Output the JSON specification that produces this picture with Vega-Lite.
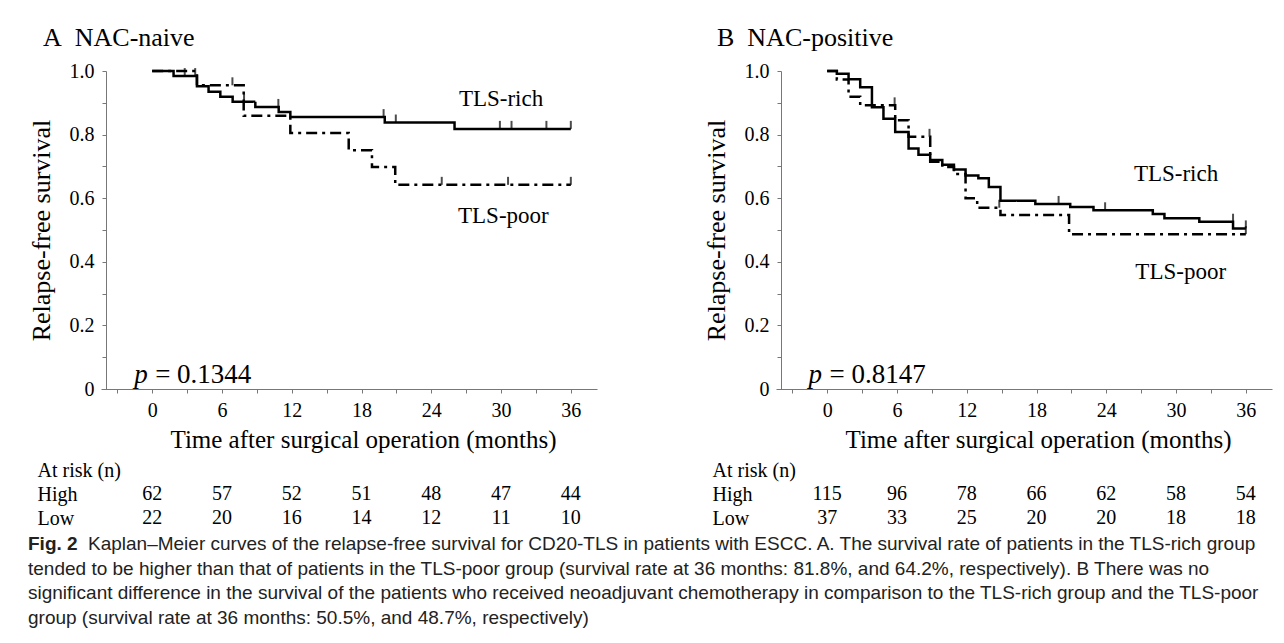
{
  "$schema": "https://vega.github.io/schema/vega-lite/v6.json",
  "padding": {"left": 28, "top": 25, "right": 5, "bottom": 5},
  "background": "white",
  "config": {
    "font": "Liberation Serif",
    "view": {"stroke": null}
  },
  "datasets": {
    "curves": [
      {"panel": "A", "group": "TLS-rich", "month": 0, "surv": 1},
      {"panel": "A", "group": "TLS-rich", "month": 1.84, "surv": 0.984},
      {"panel": "A", "group": "TLS-rich", "month": 3.85, "surv": 0.952},
      {"panel": "A", "group": "TLS-rich", "month": 4.85, "surv": 0.935},
      {"panel": "A", "group": "TLS-rich", "month": 5.86, "surv": 0.919},
      {"panel": "A", "group": "TLS-rich", "month": 6.92, "surv": 0.903},
      {"panel": "A", "group": "TLS-rich", "month": 8.87, "surv": 0.887},
      {"panel": "A", "group": "TLS-rich", "month": 10.88, "surv": 0.871},
      {"panel": "A", "group": "TLS-rich", "month": 11.88, "surv": 0.855},
      {"panel": "A", "group": "TLS-rich", "month": 20.0, "surv": 0.838},
      {"panel": "A", "group": "TLS-rich", "month": 26.0, "surv": 0.818},
      {"panel": "A", "group": "TLS-rich", "month": 36, "surv": 0.818},
      {"panel": "A", "group": "TLS-poor", "month": 0, "surv": 1},
      {"panel": "A", "group": "TLS-poor", "month": 3.85, "surv": 0.955},
      {"panel": "A", "group": "TLS-poor", "month": 7.87, "surv": 0.859},
      {"panel": "A", "group": "TLS-poor", "month": 11.88, "surv": 0.805},
      {"panel": "A", "group": "TLS-poor", "month": 16.9, "surv": 0.751},
      {"panel": "A", "group": "TLS-poor", "month": 18.9, "surv": 0.698},
      {"panel": "A", "group": "TLS-poor", "month": 20.9, "surv": 0.642},
      {"panel": "A", "group": "TLS-poor", "month": 36, "surv": 0.642},
      {"panel": "B", "group": "TLS-rich", "month": 0, "surv": 1},
      {"panel": "B", "group": "TLS-rich", "month": 0.83, "surv": 0.991},
      {"panel": "B", "group": "TLS-rich", "month": 1.84, "surv": 0.974},
      {"panel": "B", "group": "TLS-rich", "month": 2.84, "surv": 0.949},
      {"panel": "B", "group": "TLS-rich", "month": 3.85, "surv": 0.886},
      {"panel": "B", "group": "TLS-rich", "month": 4.84, "surv": 0.85},
      {"panel": "B", "group": "TLS-rich", "month": 5.85, "surv": 0.808},
      {"panel": "B", "group": "TLS-rich", "month": 7.0, "surv": 0.756},
      {"panel": "B", "group": "TLS-rich", "month": 7.85, "surv": 0.737},
      {"panel": "B", "group": "TLS-rich", "month": 8.86, "surv": 0.72},
      {"panel": "B", "group": "TLS-rich", "month": 9.9, "surv": 0.705},
      {"panel": "B", "group": "TLS-rich", "month": 10.9, "surv": 0.69},
      {"panel": "B", "group": "TLS-rich", "month": 11.9, "surv": 0.671},
      {"panel": "B", "group": "TLS-rich", "month": 13.0, "surv": 0.663},
      {"panel": "B", "group": "TLS-rich", "month": 13.9, "surv": 0.635},
      {"panel": "B", "group": "TLS-rich", "month": 14.9, "surv": 0.592},
      {"panel": "B", "group": "TLS-rich", "month": 17.9, "surv": 0.582},
      {"panel": "B", "group": "TLS-rich", "month": 20.9, "surv": 0.572},
      {"panel": "B", "group": "TLS-rich", "month": 22.9, "surv": 0.562},
      {"panel": "B", "group": "TLS-rich", "month": 28.0, "surv": 0.55},
      {"panel": "B", "group": "TLS-rich", "month": 29.0, "surv": 0.537},
      {"panel": "B", "group": "TLS-rich", "month": 32.0, "surv": 0.526},
      {"panel": "B", "group": "TLS-rich", "month": 34.9, "surv": 0.505},
      {"panel": "B", "group": "TLS-rich", "month": 36, "surv": 0.505},
      {"panel": "B", "group": "TLS-poor", "month": 0, "surv": 1},
      {"panel": "B", "group": "TLS-poor", "month": 0.83, "surv": 0.973},
      {"panel": "B", "group": "TLS-poor", "month": 1.84, "surv": 0.919},
      {"panel": "B", "group": "TLS-poor", "month": 2.84, "surv": 0.892},
      {"panel": "B", "group": "TLS-poor", "month": 5.85, "surv": 0.845},
      {"panel": "B", "group": "TLS-poor", "month": 7.0, "surv": 0.793},
      {"panel": "B", "group": "TLS-poor", "month": 8.86, "surv": 0.715},
      {"panel": "B", "group": "TLS-poor", "month": 9.9, "surv": 0.698},
      {"panel": "B", "group": "TLS-poor", "month": 10.9, "surv": 0.676},
      {"panel": "B", "group": "TLS-poor", "month": 11.9, "surv": 0.6},
      {"panel": "B", "group": "TLS-poor", "month": 12.9, "surv": 0.57},
      {"panel": "B", "group": "TLS-poor", "month": 14.9, "surv": 0.547},
      {"panel": "B", "group": "TLS-poor", "month": 20.8, "surv": 0.487},
      {"panel": "B", "group": "TLS-poor", "month": 36, "surv": 0.487}
    ],
    "censor": [
      {"panel": "A", "group": "TLS-rich", "month": 2.8, "surv": 0.984},
      {"panel": "A", "group": "TLS-rich", "month": 3.7, "surv": 0.984},
      {"panel": "A", "group": "TLS-rich", "month": 7.9, "surv": 0.903},
      {"panel": "A", "group": "TLS-rich", "month": 10.85, "surv": 0.887},
      {"panel": "A", "group": "TLS-rich", "month": 19.9, "surv": 0.855},
      {"panel": "A", "group": "TLS-rich", "month": 20.95, "surv": 0.838},
      {"panel": "A", "group": "TLS-rich", "month": 29.9, "surv": 0.818},
      {"panel": "A", "group": "TLS-rich", "month": 30.9, "surv": 0.818},
      {"panel": "A", "group": "TLS-rich", "month": 33.9, "surv": 0.818},
      {"panel": "A", "group": "TLS-rich", "month": 36, "surv": 0.818},
      {"panel": "A", "group": "TLS-poor", "month": 6.9, "surv": 0.955},
      {"panel": "A", "group": "TLS-poor", "month": 24.9, "surv": 0.642},
      {"panel": "A", "group": "TLS-poor", "month": 30.6, "surv": 0.642},
      {"panel": "A", "group": "TLS-poor", "month": 36, "surv": 0.642},
      {"panel": "B", "group": "TLS-rich", "month": 19.9, "surv": 0.582},
      {"panel": "B", "group": "TLS-rich", "month": 23.9, "surv": 0.562},
      {"panel": "B", "group": "TLS-rich", "month": 34.9, "surv": 0.526},
      {"panel": "B", "group": "TLS-rich", "month": 36, "surv": 0.505},
      {"panel": "B", "group": "TLS-poor", "month": 5.8, "surv": 0.892},
      {"panel": "B", "group": "TLS-poor", "month": 8.8, "surv": 0.793},
      {"panel": "B", "group": "TLS-poor", "month": 14.8, "surv": 0.57},
      {"panel": "B", "group": "TLS-poor", "month": 36, "surv": 0.487}
    ],
    "labels": [
      {"panel": "A", "label": "TLS-rich", "month": 30.0, "surv": 0.912},
      {"panel": "A", "label": "TLS-poor", "month": 30.2, "surv": 0.544},
      {"panel": "B", "label": "TLS-rich", "month": 30.0, "surv": 0.676},
      {"panel": "B", "label": "TLS-poor", "month": 30.4, "surv": 0.368}
    ],
    "pvals": [
      {"panel": "A", "ptext": "= 0.1344", "month": -1.55, "surv": 0.044},
      {"panel": "B", "ptext": "= 0.8147", "month": -1.6, "surv": 0.044}
    ],
    "atrisk": [
      {"panel": "A", "row": "High", "month": 0, "n": 62},
      {"panel": "A", "row": "High", "month": 6, "n": 57},
      {"panel": "A", "row": "High", "month": 12, "n": 52},
      {"panel": "A", "row": "High", "month": 18, "n": 51},
      {"panel": "A", "row": "High", "month": 24, "n": 48},
      {"panel": "A", "row": "High", "month": 30, "n": 47},
      {"panel": "A", "row": "High", "month": 36, "n": 44},
      {"panel": "A", "row": "Low", "month": 0, "n": 22},
      {"panel": "A", "row": "Low", "month": 6, "n": 20},
      {"panel": "A", "row": "Low", "month": 12, "n": 16},
      {"panel": "A", "row": "Low", "month": 18, "n": 14},
      {"panel": "A", "row": "Low", "month": 24, "n": 12},
      {"panel": "A", "row": "Low", "month": 30, "n": 11},
      {"panel": "A", "row": "Low", "month": 36, "n": 10},
      {"panel": "B", "row": "High", "month": 0, "n": 115},
      {"panel": "B", "row": "High", "month": 6, "n": 96},
      {"panel": "B", "row": "High", "month": 12, "n": 78},
      {"panel": "B", "row": "High", "month": 18, "n": 66},
      {"panel": "B", "row": "High", "month": 24, "n": 62},
      {"panel": "B", "row": "High", "month": 30, "n": 58},
      {"panel": "B", "row": "High", "month": 36, "n": 54},
      {"panel": "B", "row": "Low", "month": 0, "n": 37},
      {"panel": "B", "row": "Low", "month": 6, "n": 33},
      {"panel": "B", "row": "Low", "month": 12, "n": 25},
      {"panel": "B", "row": "Low", "month": 18, "n": 20},
      {"panel": "B", "row": "Low", "month": 24, "n": 20},
      {"panel": "B", "row": "Low", "month": 30, "n": 18},
      {"panel": "B", "row": "Low", "month": 36, "n": 18}
    ],
    "caption": [
      {"line": 1, "part": "label", "text": "Fig. 2"},
      {"line": 1, "part": "lead", "text": "Kaplan–Meier curves of the relapse-free survival for CD20-TLS in patients with ESCC. A. The survival rate of patients in the TLS-rich group"},
      {"line": 2, "part": "body", "text": "tended to be higher than that of patients in the TLS-poor group (survival rate at 36 months: 81.8%, and 64.2%, respectively). B There was no"},
      {"line": 3, "part": "body", "text": "significant difference in the survival of the patients who received neoadjuvant chemotherapy in comparison to the TLS-rich group and the TLS-poor"},
      {"line": 4, "part": "body", "text": "group (survival rate at 36 months: 50.5%, and 48.7%, respectively)"}
    ]
  },
  "spacing": 2,
  "vconcat": [
    {
      "spacing": 106,
      "hconcat": [
        {
          "spacing": 6,
          "vconcat": [
            {
              "title": {"text": "A\u00a0\u00a0NAC-naive", "anchor": "start", "frame": "bounds", "font": "Liberation Serif", "fontSize": 26, "fontWeight": "normal", "color": "black", "dx": 15, "offset": 10},
              "width": 496,
              "height": 318,
              "encoding": {
                "x": {"field": "month", "type": "quantitative",
                  "scale": {"domain": [-4.4, 38.25], "nice": false, "zero": false},
                  "axis": {"values": [-3, 0, 3, 6, 9, 12, 15, 18, 21, 24, 27, 30, 33, 36],
                    "labelExpr": "datum.value >= 0 && datum.value % 6 == 0 ? datum.label : ''",
                    "grid": false, "tickSize": 4, "tickColor": "#777777", "domainColor": "#777777",
                    "labelFont": "Liberation Serif", "labelFontSize": 20, "labelColor": "black", "labelPadding": 7,
                    "labelFlush": false, "labelOverlap": false,
                    "title": "Time after surgical operation (months)", "titleFont": "Liberation Serif", "titleFontSize": 25,
                    "titleFontWeight": "normal", "titleColor": "black", "titlePadding": 7, "titleX": 262}},
                "y": {"field": "surv", "type": "quantitative",
                  "scale": {"domain": [0, 1], "nice": false, "zero": false},
                  "axis": {"values": [0, 0.1, 0.2, 0.3, 0.4, 0.5, 0.6, 0.7, 0.8, 0.9, 1.0],
                    "labelExpr": "round(datum.value * 10) % 2 == 0 ? (datum.value == 0 ? '0' : format(datum.value, '.1f')) : ''",
                    "grid": false, "offset": -5, "tickSize": 4, "tickColor": "#777777", "domainColor": "#777777",
                    "labelFont": "Liberation Serif", "labelFontSize": 20, "labelColor": "black", "labelPadding": 8,
                    "labelFlush": false, "labelOverlap": false,
                    "title": "Relapse-free survival", "titleFont": "Liberation Serif", "titleFontSize": 26,
                    "titleFontWeight": "normal", "titleColor": "black", "titlePadding": 15}}
              },
              "layer": [
                {
                  "data": {"name": "curves"},
                  "transform": [{"filter": "datum.panel == 'A'"}],
                  "mark": {"type": "line", "interpolate": "step-after", "color": "black", "strokeWidth": 2.5},
                  "encoding": {
                    "strokeDash": {"field": "group", "type": "nominal", "scale": {"domain": ["TLS-rich", "TLS-poor"], "range": [[1, 0], [11, 5, 3, 5]]}, "legend": null},
                    "detail": {"field": "group"}
                  }
                },
                {
                  "data": {"name": "censor"},
                  "transform": [{"filter": "datum.panel == 'A'"}],
                  "mark": {"type": "tick", "orient": "vertical", "size": 8, "thickness": 2, "yOffset": -4, "color": "black"}
                },
                {
                  "data": {"name": "labels"},
                  "transform": [{"filter": "datum.panel == 'A'"}],
                  "mark": {"type": "text", "font": "Liberation Serif", "fontSize": 23, "color": "black"},
                  "encoding": {"text": {"field": "label"}}
                },
                {
                  "data": {"name": "pvals"},
                  "transform": [{"filter": "datum.panel == 'A'"}],
                  "mark": {"type": "text", "align": "left", "font": "Liberation Serif", "fontSize": 27, "fontStyle": "italic", "color": "black"},
                  "encoding": {"text": {"value": "p"}}
                },
                {
                  "data": {"name": "pvals"},
                  "transform": [{"filter": "datum.panel == 'A'"}],
                  "mark": {"type": "text", "align": "left", "dx": 21, "font": "Liberation Serif", "fontSize": 27, "color": "black"},
                  "encoding": {"text": {"field": "ptext"}}
                }
              ]
            },
            {
              "width": 496,
              "height": 72,
              "data": {"name": "atrisk"},
              "transform": [{"filter": "datum.panel == 'A'"}],
              "mark": {"type": "text", "font": "Liberation Serif", "fontSize": 20, "color": "black"},
              "encoding": {
                "x": {"field": "month", "type": "quantitative", "scale": {"domain": [-4.4, 38.25], "nice": false, "zero": false}, "axis": null},
                "y": {"field": "row", "type": "nominal", "scale": {"domain": ["At risk (n)", "High", "Low"]},
                  "axis": {"title": null, "domain": false, "ticks": false, "tickSize": 0, "labelAlign": "left", "labelPadding": 64,
                    "labelFont": "Liberation Serif", "labelFontSize": 20, "labelColor": "black"}},
                "text": {"field": "n", "type": "quantitative"}
              }
            }
          ]
        },
        {
          "spacing": 6,
          "vconcat": [
            {
              "title": {"text": "B\u00a0\u00a0NAC-positive", "anchor": "start", "frame": "bounds", "font": "Liberation Serif", "fontSize": 26, "fontWeight": "normal", "color": "black", "dx": 14, "offset": 10},
              "width": 496,
              "height": 318,
              "encoding": {
                "x": {"field": "month", "type": "quantitative",
                  "scale": {"domain": [-4.4, 38.25], "nice": false, "zero": false},
                  "axis": {"values": [-3, 0, 3, 6, 9, 12, 15, 18, 21, 24, 27, 30, 33, 36],
                    "labelExpr": "datum.value >= 0 && datum.value % 6 == 0 ? datum.label : ''",
                    "grid": false, "tickSize": 4, "tickColor": "#777777", "domainColor": "#777777",
                    "labelFont": "Liberation Serif", "labelFontSize": 20, "labelColor": "black", "labelPadding": 7,
                    "labelFlush": false, "labelOverlap": false,
                    "title": "Time after surgical operation (months)", "titleFont": "Liberation Serif", "titleFontSize": 25,
                    "titleFontWeight": "normal", "titleColor": "black", "titlePadding": 7, "titleX": 262}},
                "y": {"field": "surv", "type": "quantitative",
                  "scale": {"domain": [0, 1], "nice": false, "zero": false},
                  "axis": {"values": [0, 0.1, 0.2, 0.3, 0.4, 0.5, 0.6, 0.7, 0.8, 0.9, 1.0],
                    "labelExpr": "round(datum.value * 10) % 2 == 0 ? (datum.value == 0 ? '0' : format(datum.value, '.1f')) : ''",
                    "grid": false, "offset": -5, "tickSize": 4, "tickColor": "#777777", "domainColor": "#777777",
                    "labelFont": "Liberation Serif", "labelFontSize": 20, "labelColor": "black", "labelPadding": 8,
                    "labelFlush": false, "labelOverlap": false,
                    "title": "Relapse-free survival", "titleFont": "Liberation Serif", "titleFontSize": 26,
                    "titleFontWeight": "normal", "titleColor": "black", "titlePadding": 15}}
              },
              "layer": [
                {
                  "data": {"name": "curves"},
                  "transform": [{"filter": "datum.panel == 'B'"}],
                  "mark": {"type": "line", "interpolate": "step-after", "color": "black", "strokeWidth": 2.5},
                  "encoding": {
                    "strokeDash": {"field": "group", "type": "nominal", "scale": {"domain": ["TLS-rich", "TLS-poor"], "range": [[1, 0], [11, 5, 3, 5]]}, "legend": null},
                    "detail": {"field": "group"}
                  }
                },
                {
                  "data": {"name": "censor"},
                  "transform": [{"filter": "datum.panel == 'B'"}],
                  "mark": {"type": "tick", "orient": "vertical", "size": 8, "thickness": 2, "yOffset": -4, "color": "black"}
                },
                {
                  "data": {"name": "labels"},
                  "transform": [{"filter": "datum.panel == 'B'"}],
                  "mark": {"type": "text", "font": "Liberation Serif", "fontSize": 23, "color": "black"},
                  "encoding": {"text": {"field": "label"}}
                },
                {
                  "data": {"name": "pvals"},
                  "transform": [{"filter": "datum.panel == 'B'"}],
                  "mark": {"type": "text", "align": "left", "font": "Liberation Serif", "fontSize": 27, "fontStyle": "italic", "color": "black"},
                  "encoding": {"text": {"value": "p"}}
                },
                {
                  "data": {"name": "pvals"},
                  "transform": [{"filter": "datum.panel == 'B'"}],
                  "mark": {"type": "text", "align": "left", "dx": 21, "font": "Liberation Serif", "fontSize": 27, "color": "black"},
                  "encoding": {"text": {"field": "ptext"}}
                }
              ]
            },
            {
              "width": 496,
              "height": 72,
              "data": {"name": "atrisk"},
              "transform": [{"filter": "datum.panel == 'B'"}],
              "mark": {"type": "text", "font": "Liberation Serif", "fontSize": 20, "color": "black"},
              "encoding": {
                "x": {"field": "month", "type": "quantitative", "scale": {"domain": [-4.4, 38.25], "nice": false, "zero": false}, "axis": null},
                "y": {"field": "row", "type": "nominal", "scale": {"domain": ["At risk (n)", "High", "Low"]},
                  "axis": {"title": null, "domain": false, "ticks": false, "tickSize": 0, "labelAlign": "left", "labelPadding": 64,
                    "labelFont": "Liberation Serif", "labelFontSize": 20, "labelColor": "black"}},
                "text": {"field": "n", "type": "quantitative"}
              }
            }
          ]
        }
      ]
    },
    {
      "width": 1100,
      "height": 98,
      "data": {"name": "caption"},
      "encoding": {
        "x": {"datum": 0, "type": "quantitative", "scale": {"domain": [0, 1], "nice": false, "zero": false}, "axis": null},
        "y": {"field": "line", "type": "ordinal", "scale": {"type": "point", "padding": 0.5}, "axis": null},
        "text": {"field": "text"}
      },
      "layer": [
        {
          "transform": [{"filter": "datum.part == 'label'"}],
          "mark": {"type": "text", "align": "left", "baseline": "middle", "dx": -73, "font": "Liberation Sans", "fontSize": 19, "fontWeight": "bold", "color": "#222222"}
        },
        {
          "transform": [{"filter": "datum.part == 'lead'"}],
          "mark": {"type": "text", "align": "left", "baseline": "middle", "dx": -13, "font": "Liberation Sans", "fontSize": 19, "color": "#222222"}
        },
        {
          "transform": [{"filter": "datum.part == 'body'"}],
          "mark": {"type": "text", "align": "left", "baseline": "middle", "dx": -73, "font": "Liberation Sans", "fontSize": 19, "color": "#222222"}
        }
      ]
    }
  ]
}
